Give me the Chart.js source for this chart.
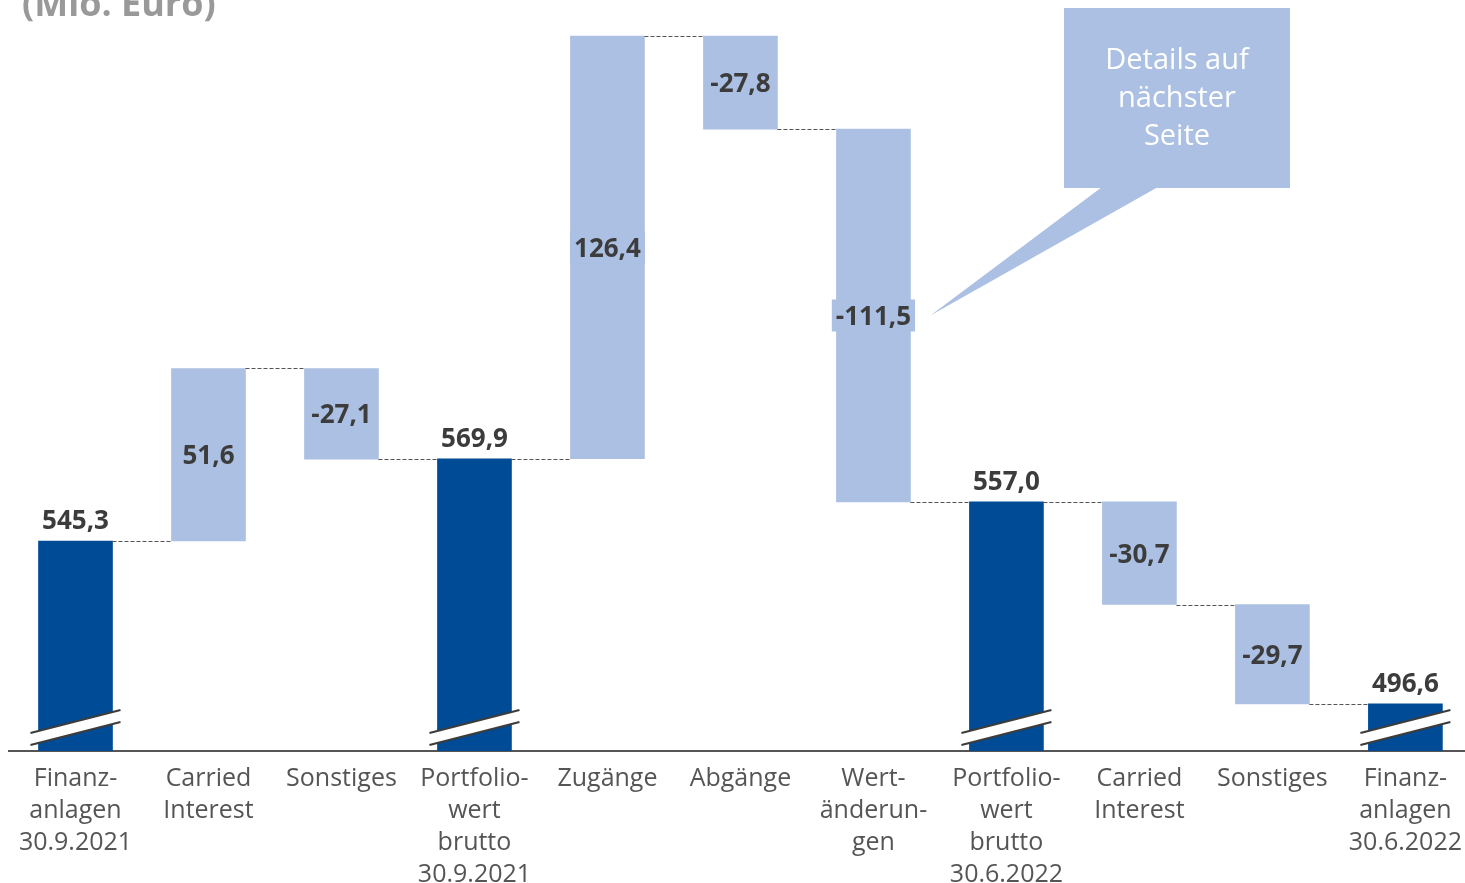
<!DOCTYPE html>
<html>
<head>
<meta charset="utf-8">
<script src="https://cdn.jsdelivr.net/npm/chart.js@4.4.0/dist/chart.umd.min.js"></script>
<style>
  html, body { margin: 0; padding: 0; background: #fff; overflow: hidden; }
  #wrap { width: 1474px; height: 883px; }
</style>
</head>
<body>
<div id="wrap"><canvas id="bridge" width="1474" height="883"></canvas></div>
<script>
const categories = [
  ['Finanz-', 'anlagen', '30.9.2021'],
  ['Carried', 'Interest'],
  ['Sonstiges'],
  ['Portfolio-', 'wert', 'brutto', '30.9.2021'],
  ['Zugänge'],
  ['Abgänge'],
  ['Wert-', 'änderun-', 'gen'],
  ['Portfolio-', 'wert', 'brutto', '30.6.2022'],
  ['Carried', 'Interest'],
  ['Sonstiges'],
  ['Finanz-', 'anlagen', '30.6.2022']
]
const values = [545.3, 51.6, -27.1, 569.9, 126.4, -27.8, -111.5, 557.0, -30.7, -29.7, 496.6]
const isTotal = [true, false, false, true, false, false, false, true, false, false, true]

const axisMin = 482.5
const axisMax = 707.1

const totalColor = '#004b96'
const changeColor = '#abc0e2'
const labelColor = '#3c3c3c'
const fontFamily = '"Open Sans", "Noto Sans", sans-serif'

// floating bars: totals start at the (broken) axis, changes start at the running sum
let running = 0
const ranges = values.map((v, i) => {
  if (isTotal[i]) {
    running = v
    return [axisMin, v]
  }
  const start = running
  running += v
  return [start, running]
})

const fmt = (v) => v.toFixed(1).replace('.', ',')

const waterfallExtras = {
  id: 'waterfallExtras',
  afterDatasetsDraw(chart) {
    const ctx = chart.ctx
    const bars = chart.getDatasetMeta(0).data
    const y = chart.scales.y
    const base = chart.chartArea.bottom

    ctx.save()

    // dashed connectors between neighbouring bars
    ctx.strokeStyle = '#555'
    ctx.lineWidth = 1
    ctx.setLineDash([4, 2])
    for (let i = 0; i < bars.length - 1; i++) {
      const level = Math.round(y.getPixelForValue(ranges[i][1])) + 0.5
      const a = bars[i]
      const b = bars[i + 1]
      ctx.beginPath()
      ctx.moveTo(a.x + a.width / 2, level)
      ctx.lineTo(b.x - b.width / 2, level)
      ctx.stroke()
    }
    ctx.setLineDash([])

    // axis break marks on the total bars
    bars.forEach((bar, i) => {
      if (!isTotal[i]) return
      const x0 = bar.x - 45
      const x1 = bar.x + 45
      ctx.fillStyle = '#fff'
      ctx.beginPath()
      ctx.moveTo(x0, base - 18)
      ctx.lineTo(x1, base - 41)
      ctx.lineTo(x1, base - 29)
      ctx.lineTo(x0, base - 6)
      ctx.closePath()
      ctx.fill()
      ctx.strokeStyle = '#3c3c3c'
      ctx.lineWidth = 2.2
      ctx.beginPath()
      ctx.moveTo(x0, base - 18)
      ctx.lineTo(x1, base - 41)
      ctx.moveTo(x0, base - 6)
      ctx.lineTo(x1, base - 29)
      ctx.stroke()
    })

    // value labels
    ctx.font = `bold 26px ${fontFamily}`
    ctx.textAlign = 'center'
    ctx.textBaseline = 'middle'
    bars.forEach((bar, i) => {
      const text = fmt(values[i])
      if (isTotal[i]) {
        ctx.fillStyle = labelColor
        ctx.fillText(text, bar.x, bar.y - 19)
      } else {
        const mid = (y.getPixelForValue(ranges[i][0]) + y.getPixelForValue(ranges[i][1])) / 2
        const w = ctx.measureText(text).width + 8
        ctx.fillStyle = changeColor
        ctx.fillRect(bar.x - w / 2, mid - 16, w, 32)
        ctx.fillStyle = labelColor
        ctx.fillText(text, bar.x, mid + 2)
      }
    })

    // unit heading
    ctx.textAlign = 'left'
    ctx.textBaseline = 'alphabetic'
    ctx.fillStyle = '#999'
    ctx.font = `bold 36px ${fontFamily}`
    ctx.fillText('(Mio. Euro)', 22, 16)

    // callout pointing at the value changes bar
    const wa = bars[6]
    const tipY = (y.getPixelForValue(ranges[6][0]) + y.getPixelForValue(ranges[6][1])) / 2
    const tipX = wa.x + 57
    ctx.fillStyle = changeColor
    ctx.fillRect(1064, 8, 226, 180)
    ctx.beginPath()
    ctx.moveTo(1102, 187)
    ctx.lineTo(1158, 187)
    ctx.lineTo(tipX, tipY)
    ctx.closePath()
    ctx.fill()
    ctx.fillStyle = '#fff'
    ctx.textAlign = 'center'
    ctx.textBaseline = 'middle'
    ctx.font = `29px ${fontFamily}`
    ;['Details auf', 'nächster', 'Seite'].forEach((line, k) => {
      ctx.fillText(line, 1177, 61 + k * 38)
    })

    ctx.restore()
  }
}

new Chart(document.getElementById('bridge'), {
  type: 'bar',
  data: {
    labels: categories,
    datasets: [{
      data: ranges,
      backgroundColor: isTotal.map((t) => (t ? totalColor : changeColor)),
      barThickness: 74,
      borderSkipped: false,
      borderWidth: 0
    }]
  },
  options: {
    responsive: false,
    animation: false,
    devicePixelRatio: 1,
    layout: { padding: { left: 9, right: 0, top: 0, bottom: 0 } },
    plugins: {
      legend: { display: false },
      tooltip: { enabled: false }
    },
    scales: {
      x: {
        grid: { display: false, drawTicks: false },
        border: { display: true, color: '#555', width: 2 },
        ticks: {
          autoSkip: false,
          maxRotation: 0,
          padding: 12,
          color: '#555',
          font: { family: fontFamily, size: 25, lineHeight: 1.28 }
        },
        afterFit(scale) {
          scale.height = 132
        }
      },
      y: {
        display: false,
        min: axisMin,
        max: axisMax
      }
    }
  },
  plugins: [waterfallExtras]
})
</script>
</body>
</html>
